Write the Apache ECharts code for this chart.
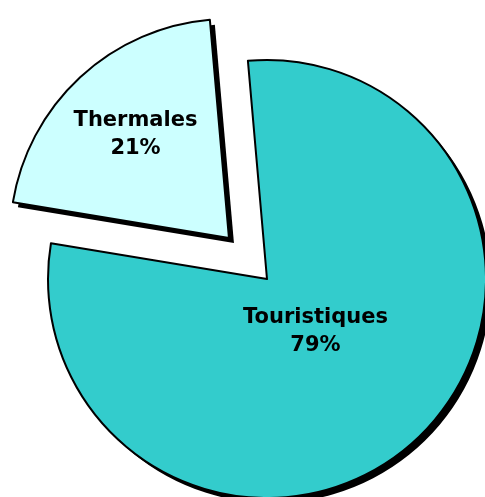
<!DOCTYPE html>
<html lang="fr">
<head>
<meta charset="UTF-8">
<title>Répartition</title>
<script src="https://cdn.jsdelivr.net/npm/echarts@6.0.0/dist/echarts.min.js"></script>
<style>
  html, body { margin: 0; padding: 0; background: #fff; }
  #chart { width: 485px; height: 497px; }
</style>
</head>
<body>
<div id="chart"></div>
<script>
  // données
  const categories = ['Touristiques', 'Thermales'];
  const values = [79, 21];
  const colors = ['#33CCCC', '#CCFFFF'];
  const exploded = [false, true];
  // décalage des étiquettes (comme dans Excel)
  const labelShift = [[-28, -30], [-17, -21]];

  const chart = echarts.init(document.getElementById('chart'));

  const pieData = categories.map(function (name, i) {
    return {
      name: name,
      value: values[i],
      selected: exploded[i],
      itemStyle: { color: colors[i] }
    };
  });

  const common = {
    type: 'pie',
    radius: 219,
    startAngle: 95,
    clockwise: true,
    selectedMode: 'multiple',
    selectedOffset: 56,
    avoidLabelOverlap: false,
    emphasis: { disabled: true },
    labelLine: { show: false }
  };

  chart.setOption({
    animation: false,
    series: [
      // ombre portée
      Object.assign({}, common, {
        center: [272, 284],
        silent: true,
        itemStyle: { color: '#000', borderWidth: 0 },
        label: { show: false },
        data: pieData.map(function (d) {
          return { name: d.name, value: d.value, selected: d.selected, itemStyle: { color: '#000' } };
        })
      }),
      Object.assign({}, common, {
        center: [267, 279],
        itemStyle: {
          borderColor: '#000',
          borderWidth: 2
        },
        label: {
          show: true,
          position: 'inside',
          formatter: '{b}\n{d}%',
          color: '#000',
          fontFamily: 'DejaVu Sans',
          fontWeight: 'bold',
          fontSize: 21,
          lineHeight: 28,
          align: 'center'
        },
        labelLayout: function (params) {
          const s = labelShift[params.dataIndex];
          return { dx: s[0], dy: s[1] };
        },
        data: pieData
      })
    ]
  });
</script>
</body>
</html>
